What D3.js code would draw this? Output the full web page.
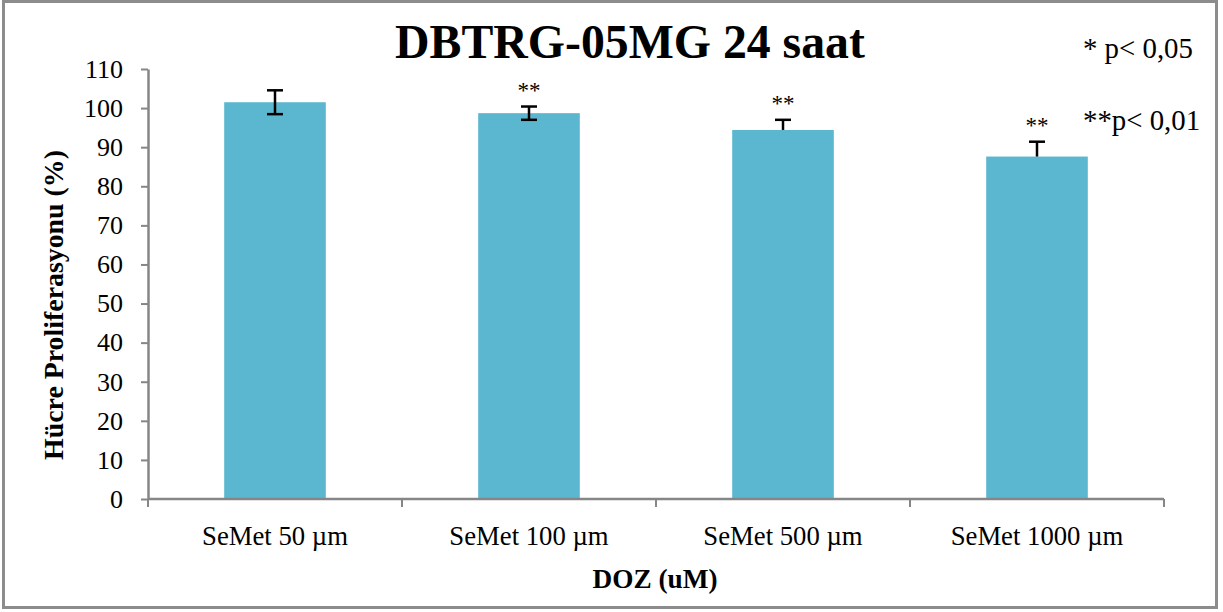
<!DOCTYPE html>
<html>
<head>
<meta charset="utf-8">
<script src="https://cdn.jsdelivr.net/npm/d3@7"></script>
<style>
  html, body { margin: 0; padding: 0; background: #fff; }
  svg { display: block; }
  text { font-family: "Liberation Serif", "DejaVu Serif", serif; fill: #000; }
</style>
</head>
<body>
<svg id="chart" width="1223" height="612"></svg>
<script>
// Cell proliferation after 24 h SeMet exposure
const categories = ["SeMet 50 µm", "SeMet 100 µm", "SeMet 500 µm", "SeMet 1000 µm"];
const values = [101.5, 98.7, 94.4, 87.6];
const errors = [3.05, 1.7, 2.6, 3.8];
const errorBoth = [true, true, false, false];   // last two draw only the upper whisker
const marks = ["", "**", "**", "**"];
const yTicks = [0, 10, 20, 30, 40, 50, 60, 70, 80, 90, 100, 110];
const notes = ["* p< 0,05", "**p< 0,01"];

const svg = d3.select("#chart");
const axisColor = "#868686";
const barColor = "#5BB7CF";
const serif = '"Liberation Serif", "DejaVu Serif", serif';

// scale a text node's font size so that it spans the given width
function fitWidth(sel, width) {
  const node = sel.node();
  const base = parseFloat(sel.attr("font-size"));
  const len = node.getComputedTextLength();
  const size = base * width / len;
  sel.attr("font-size", size);
  return size;
}

// outer frame
svg.append("rect")
  .attr("x", 3.5).attr("y", 1.5)
  .attr("width", 1213).attr("height", 606)
  .attr("fill", "#fff").attr("stroke", "#8c8c8c").attr("stroke-width", 3);

const plot = { left: 148, right: 1164, top: 69, bottom: 499 };

const x = d3.scaleBand()
  .domain(categories)
  .range([plot.left, plot.right])
  .paddingInner(0.6)
  .paddingOuter(0.3);

const y = d3.scaleLinear().domain([0, 110]).range([plot.bottom, plot.top]);

// bars
svg.append("g").selectAll("rect")
  .data(categories)
  .join("rect")
  .attr("x", d => x(d))
  .attr("width", x.bandwidth())
  .attr("y", (d, i) => y(values[i]))
  .attr("height", (d, i) => y(0) - y(values[i]))
  .attr("fill", barColor);

// y axis
const yAxis = svg.append("g")
  .attr("transform", `translate(${plot.left},0)`)
  .call(d3.axisLeft(y).tickValues(yTicks).tickSize(7).tickSizeOuter(0).tickPadding(18));
yAxis.select(".domain").attr("stroke", axisColor).attr("stroke-width", 2.5);
yAxis.selectAll(".tick line").attr("stroke", axisColor).attr("stroke-width", 2);
yAxis.selectAll(".tick text")
  .style("font-family", serif)
  .style("font-size", "26px").attr("fill", "#1a1a1a");

// x axis: baseline with ticks at the category boundaries
const xg = svg.append("g");
xg.append("line")
  .attr("x1", plot.left).attr("x2", plot.right)
  .attr("y1", y(0)).attr("y2", y(0))
  .attr("stroke", axisColor).attr("stroke-width", 2.5);
const edges = d3.range(categories.length + 1).map(i => plot.left + i * (plot.right - plot.left) / categories.length);
xg.selectAll("line.tk")
  .data(edges)
  .join("line")
  .attr("class", "tk")
  .attr("x1", d => d).attr("x2", d => d)
  .attr("y1", y(0)).attr("y2", y(0) + 8)
  .attr("stroke", axisColor).attr("stroke-width", 2);
const cats = xg.selectAll("text.cat")
  .data(categories)
  .join("text")
  .attr("class", "cat")
  .attr("x", d => x(d) + x.bandwidth() / 2)
  .attr("y", 545)
  .attr("text-anchor", "middle")
  .attr("font-size", 24)
  .attr("fill", "#1a1a1a")
  .text(d => d);
const catSize = fitWidth(cats.filter((d, i) => i === 0), 146);
cats.attr("font-size", catSize);

// error bars
const eg = svg.append("g").attr("stroke", "#000").attr("stroke-width", 2.5);
categories.forEach((c, i) => {
  const cx = x(c) + x.bandwidth() / 2;
  const top = y(values[i] + errors[i]);
  const bot = errorBoth[i] ? y(values[i] - errors[i]) : y(values[i]);
  eg.append("line").attr("x1", cx).attr("x2", cx).attr("y1", top).attr("y2", bot);
  eg.append("line").attr("x1", cx - 8).attr("x2", cx + 8).attr("y1", top).attr("y2", top);
  if (errorBoth[i]) {
    eg.append("line").attr("x1", cx - 8).attr("x2", cx + 8).attr("y1", bot).attr("y2", bot);
  }
});

// significance marks
svg.append("g").selectAll("text")
  .data(categories)
  .join("text")
  .attr("x", d => x(d) + x.bandwidth() / 2)
  .attr("y", (d, i) => y(values[i] + errors[i]) - 9)
  .attr("text-anchor", "middle")
  .attr("font-size", 23)
  .attr("fill", "#444")
  .text((d, i) => marks[i]);

// title
const title = svg.append("text")
  .attr("x", 630).attr("y", 58)
  .attr("text-anchor", "middle")
  .attr("font-size", 48)
  .attr("font-weight", "bold")
  .text("DBTRG-05MG 24 saat");
fitWidth(title, 470);

// axis titles
const yTitle = svg.append("text")
  .attr("transform", `translate(63,305) rotate(-90)`)
  .attr("text-anchor", "middle")
  .attr("font-size", 26)
  .attr("font-weight", "bold")
  .text("Hücre Proliferasyonu (%)");
fitWidth(yTitle, 310);

const xTitle = svg.append("text")
  .attr("x", 655).attr("y", 588)
  .attr("text-anchor", "middle")
  .attr("font-size", 26)
  .attr("font-weight", "bold")
  .text("DOZ (uM)");
fitWidth(xTitle, 125);

// p-value notes
const noteText = svg.append("g").selectAll("text")
  .data(notes)
  .join("text")
  .attr("x", 1083)
  .attr("y", (d, i) => 58 + i * 72)
  .attr("font-size", 27)
  .attr("fill", "#1a1a1a")
  .text(d => d);
const noteSize = fitWidth(noteText.filter((d, i) => i === 0), 110);
noteText.attr("font-size", noteSize);
</script>
</body>
</html>
